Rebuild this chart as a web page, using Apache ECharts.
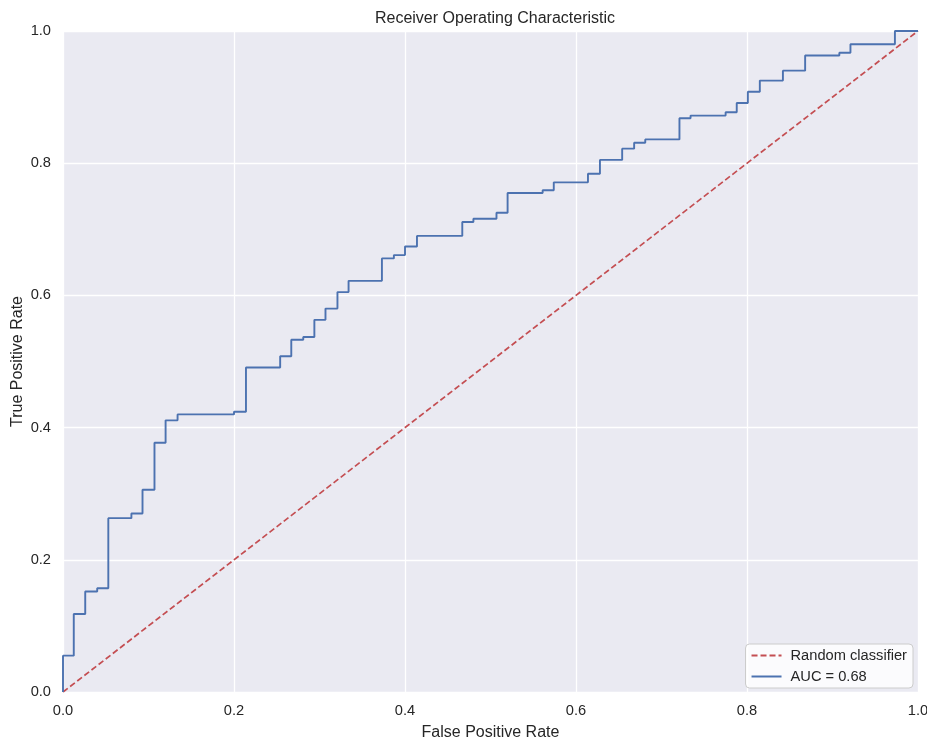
<!DOCTYPE html>
<html>
<head>
<meta charset="utf-8">
<script src="https://cdn.jsdelivr.net/npm/echarts@6/dist/echarts.min.js"></script>
<style>
html,body{margin:0;padding:0;background:#fff;}
#chart{width:927px;height:740px;}
</style>
</head>
<body>
<div id="chart"></div>
<script>
// ROC curve vertices (False Positive Rate, True Positive Rate)
const fpr = [0, 0, 0.0126, 0.026, 0.040, 0.053, 0.080, 0.093, 0.107, 0.120, 0.134, 0.200, 0.214, 0.254, 0.267, 0.281, 0.294, 0.307, 0.321, 0.334, 0.373, 0.387, 0.400, 0.414, 0.467, 0.480, 0.507, 0.520, 0.561, 0.574, 0.614, 0.628, 0.654, 0.668, 0.681, 0.721, 0.734, 0.775, 0.788, 0.801, 0.815, 0.842, 0.868, 0.908, 0.921, 0.973, 1.0];
const tpr = [0, 0.055, 0.118, 0.152, 0.157, 0.263, 0.270, 0.306, 0.377, 0.411, 0.420, 0.424, 0.491, 0.508, 0.533, 0.537, 0.563, 0.580, 0.605, 0.622, 0.656, 0.661, 0.674, 0.690, 0.711, 0.716, 0.725, 0.755, 0.759, 0.771, 0.784, 0.805, 0.822, 0.831, 0.836, 0.868, 0.872, 0.877, 0.891, 0.908, 0.925, 0.940, 0.963, 0.967, 0.980, 1.0, 1.0];
// Diagonal of a random classifier
const randomX = [0, 1];
const randomY = [0, 1];
const aucLabel = 'AUC = 0.68';
const randomLabel = 'Random classifier';
const titleText = 'Receiver Operating Characteristic';
const xName = 'False Positive Rate';
const yName = 'True Positive Rate';

const chart = echarts.init(document.getElementById('chart'), null, {renderer: 'canvas'});
const font = '"Liberation Sans", Arial, sans-serif';
const textColor = '#262626';

chart.setOption({
  animation: false,
  backgroundColor: '#ffffff',
  title: {
    text: titleText,
    left: 490, top: 6, textAlign: 'center',
    textStyle: {fontFamily: font, fontSize: 16, fontWeight: 'normal', color: textColor}
  },
  grid: {left: 63, right: 9, top: 31, bottom: 48, show: true, backgroundColor: '#EAEAF2', borderWidth: 0,
         containLabel: false, outerBoundsMode: 'none'},
  xAxis: {
    type: 'value', min: 0, max: 1, interval: 0.2,
    name: xName, nameLocation: 'middle', nameGap: 33, nameMoveOverlap: false,
    nameTextStyle: {fontFamily: font, fontSize: 16, color: textColor},
    axisLine: {show: false}, axisTick: {show: false},
    axisLabel: {fontFamily: font, fontSize: 14.67, color: textColor, margin: 11, formatter: v => v.toFixed(1)},
    splitLine: {show: true, lineStyle: {color: '#ffffff', width: 1.3}}
  },
  yAxis: {
    type: 'value', min: 0, max: 1, interval: 0.2,
    name: yName, nameLocation: 'middle', nameGap: 37, nameMoveOverlap: false,
    nameTextStyle: {fontFamily: font, fontSize: 16, color: textColor},
    axisLine: {show: false}, axisTick: {show: false},
    axisLabel: {fontFamily: font, fontSize: 14.67, color: textColor, margin: 12, formatter: v => v.toFixed(1)},
    splitLine: {show: true, lineStyle: {color: '#ffffff', width: 1.3}}
  },
  legend: {
    orient: 'vertical', right: 14, bottom: 52,
    backgroundColor: 'rgba(255,255,255,0.8)', borderColor: '#cccccc', borderWidth: 1, borderRadius: 4,
    padding: [4, 6, 4, 5], itemGap: 6, itemWidth: 30, itemHeight: 12,
    itemStyle: {opacity: 0},
    textStyle: {fontFamily: font, fontSize: 14.67, color: textColor, padding: [0, 0, 0, 4]},
    data: [randomLabel, aucLabel]
  },
  series: [
    {
      name: randomLabel, type: 'line', symbol: 'none', silent: true,
      data: randomX.map((x, i) => [x, randomY[i]]),
      lineStyle: {color: '#C44E52', width: 1.7, type: [6, 3]},
      itemStyle: {color: '#C44E52'}
    },
    {
      name: aucLabel, type: 'line', symbol: 'none', step: 'end', silent: true,
      data: fpr.map((x, i) => [x, tpr[i]]),
      lineStyle: {color: '#4C72B0', width: 1.9},
      itemStyle: {color: '#4C72B0'}
    }
  ]
});
</script>
</body>
</html>
